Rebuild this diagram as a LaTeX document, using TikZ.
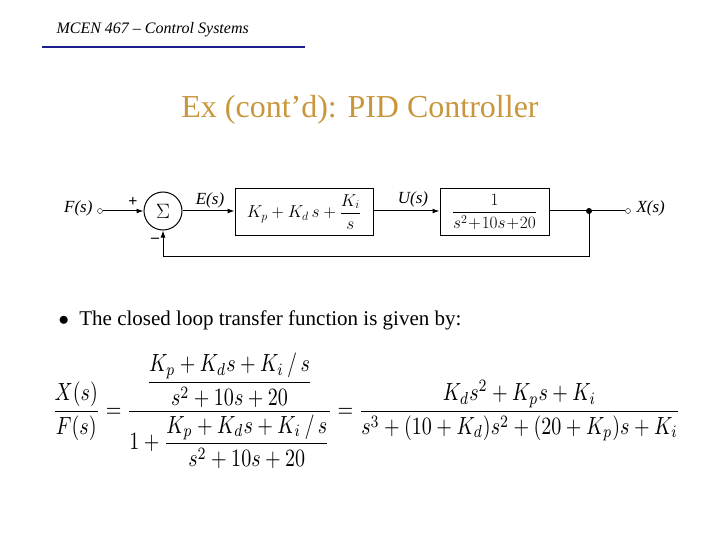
\documentclass[tikz,border=0pt]{standalone}
\usepackage{fontspec}
\setmainfont{Liberation Serif}
\usepackage{amsmath}
\usepackage{graphicx}
\usetikzlibrary{arrows.meta}
\definecolor{ttl}{RGB}{200,150,60}
\definecolor{hl}{RGB}{30,30,140}
\begin{document}
\begin{tikzpicture}[x=1pt,y=-1pt,
  blk/.style={draw,line width=1pt,minimum height=46pt,inner sep=0pt,font=\fontsize{17}{20}\selectfont},
  port/.style={circle,draw,inner sep=0pt,minimum size=5pt},
  lbl/.style={font=\itshape\fontsize{17}{20}\selectfont},
  arr/.style={-{Latex[length=7pt,width=5pt]}},
  ln/.style={line width=1pt}]
\useasboundingbox (0,0) rectangle (720,540);
\node[anchor=west,font=\itshape\fontsize{16}{18}\selectfont] (hdr) at (53,30) {MCEN 467 -- Control Systems};
\draw[hl,line width=1.5pt] (42,47) -- (305,47);
\node[text=ttl,font=\fontsize{32}{38}\selectfont] (title) at (360,110) {Ex (cont'd): PID Controller};
% block diagram
\node[lbl,anchor=east] (F) at (96,208) {F(s)};
\node[port] (in) at (100,211) {};
\node[circle,draw,line width=1pt,minimum size=38pt,inner sep=0pt,font=\fontsize{22}{24}\selectfont] (sum) at (163,211) {$\Sigma$};
\node[blk,minimum width=138pt] (c) at (304,212) {$K_p+K_d\,s+\dfrac{K_i}{s}$};
\node[blk,minimum width=109pt] (g) at (494.5,212) {$\dfrac{1}{s^2\!+\!10s\!+\!20}$};
\coordinate (j) at (589,211);
\fill (j) circle (3pt);
\node[port] (out) at (628,211) {};
\node[lbl,anchor=west] (X) at (633,208) {X(s)};
\node[lbl] (E) at (210,200) {E(s)};
\node[lbl] (U) at (413,199) {U(s)};
\node[font=\bfseries\fontsize{16}{18}\selectfont] (p) at (133,202) {+};
\node[font=\bfseries\fontsize{16}{18}\selectfont] (m) at (155,240) {--};
\draw[arr,ln] (in) -- (sum);
\draw[arr,ln] (sum) -- (c.west|-sum);
\draw[arr,ln] (c.east|-sum) -- (g.west|-sum);
\draw[ln] (g.east|-sum) -- (out);
\draw[arr,ln] (j) -- (589,256) -- (163,256) -- (sum.south);
% bullet
\node[anchor=west,font=\fontsize{21}{25}\selectfont] (b) at (55,320) {$\bullet$\ \ The closed loop transfer function is given by:};
\node[inner sep=0pt,anchor=west] (eq) at (52,411) {\resizebox*{628pt}{116pt}{$\displaystyle\frac{X(s)}{F(s)}=\frac{\dfrac{K_p+K_ds+K_i\,/\,s}{s^2+10s+20}}{1+\dfrac{K_p+K_ds+K_i\,/\,s}{s^2+10s+20}}=\frac{K_ds^2+K_ps+K_i}{s^3+(10+K_d)s^2+(20+K_p)s+K_i}$}};
\end{tikzpicture}
\end{document}
